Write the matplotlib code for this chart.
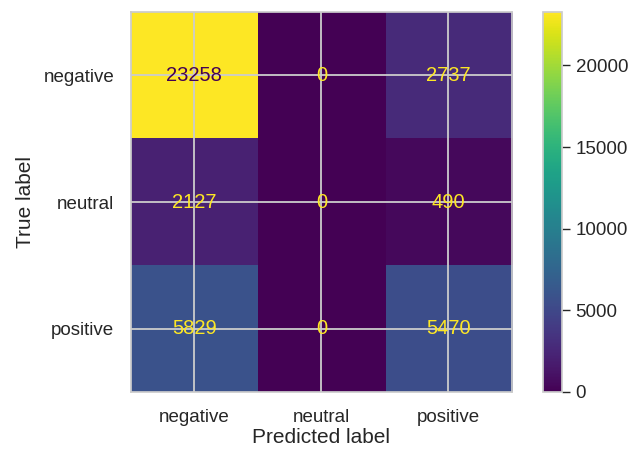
import matplotlib.pyplot as plt
import numpy as np
import seaborn as sns

sns.set_theme(style="whitegrid")
plt.rcParams['font.family'] = ['Liberation Sans', 'DejaVu Sans']

labels = ["negative", "neutral", "positive"]
counts = np.array([[23258, 0, 2737],
                   [2127, 0, 490],
                   [5829, 0, 5470]])

fig = plt.figure(figsize=(6.29, 4.5), dpi=100)
ax = fig.add_axes([0.208, 0.129, 0.606, 0.844])
cax = fig.add_axes([0.863, 0.129, 0.030, 0.844])

cmap = plt.get_cmap("viridis")
im = ax.imshow(counts, cmap=cmap, aspect="auto", vmin=counts.min(), vmax=counts.max())

thresh = (counts.max() + counts.min()) / 2.0
for i in range(counts.shape[0]):
    for j in range(counts.shape[1]):
        c = cmap(0) if counts[i, j] > thresh else cmap(1.0)
        ax.text(j, i, str(counts[i, j]), ha="center", va="center", color=c, fontsize=14.5)

ax.set_xticks(range(len(labels)))
ax.set_yticks(range(len(labels)))
ax.set_xticklabels(labels)
ax.set_yticklabels(labels)
ax.tick_params(labelsize=13.5, pad=6)
ax.set_xlabel("Predicted label", fontsize=15, labelpad=2)
ax.set_ylabel("True label", fontsize=15, labelpad=6)
ax.grid(True, color="0.8", linewidth=1.3)
for s in ax.spines.values():
    s.set_color("0.8")

cb = fig.colorbar(im, cax=cax)
cb.set_ticks([0, 5000, 10000, 15000, 20000])
cb.outline.set_edgecolor("0.8")
cax.tick_params(axis="y", length=6, width=1, color="0.15", right=True, labelsize=13.5, pad=4)
cax.grid(False)

plt.savefig("out.png")
